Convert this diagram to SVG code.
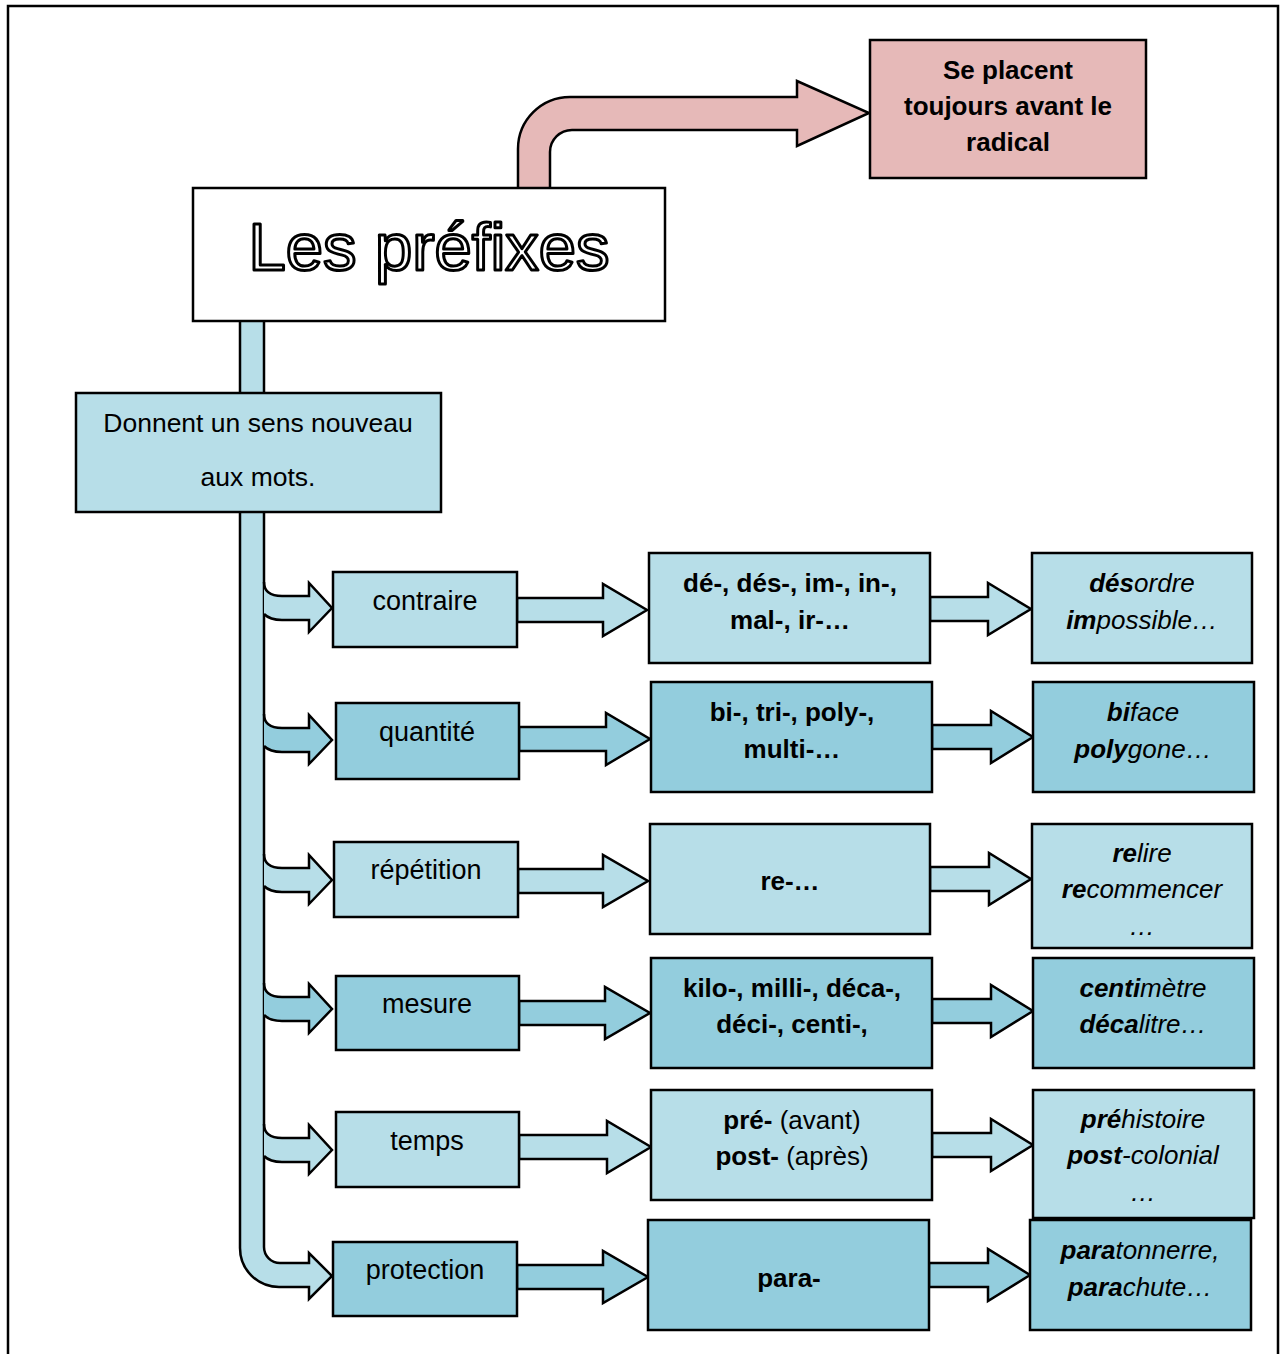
<svg xmlns="http://www.w3.org/2000/svg" width="1284" height="1354" viewBox="0 0 1284 1354">
<style>
.lt{fill:#b7dee8;stroke:#000;stroke-width:2.5;stroke-linejoin:miter}
.dk{fill:#93cddd;stroke:#000;stroke-width:2.5;stroke-linejoin:miter}
.pk{fill:#e6b9b8;stroke:#000;stroke-width:2.5;stroke-linejoin:miter}
.wh{fill:#fff;stroke:#000;stroke-width:2.5}
.t{font-family:"Liberation Sans",Arial,sans-serif;font-size:26px;text-anchor:middle;fill:#000}
.r{font-size:27px}
.b{font-weight:bold}
.i{font-style:italic}
.bi{font-weight:bold;font-style:italic}
</style>
<rect width="1284" height="1354" fill="#fff"/>
<path d="M8,1354 V6 H1278 V1354" fill="none" stroke="#000" stroke-width="2.5"/>

<g id="connectors">
  <path class="pk" d="M518,188 V149 A52,52 0 0 1 570,97 H797 V81 L869,113 L797,146 V130 H572 A22,22 0 0 0 550,152 V188"/>
  <path class="lt" d="M240,321 V1248 A39,39 0 0 0 279,1287 H309 V1299 L332,1276 L309,1253 V1263 H280 A16,16 0 0 1 264,1247 V321"/>
  <path class="lt" d="M264,582 Q264,596 282,596 H309 V583 L332,608 L309,632 V620 H282 Q270,620 264,614"/>
  <path class="dk" d="M264,714 Q264,728 282,728 H309 V715 L332,740 L309,764 V752 H282 Q270,752 264,746"/>
  <path class="lt" d="M264,854 Q264,868 282,868 H309 V855 L332,880 L309,904 V892 H282 Q270,892 264,886"/>
  <path class="dk" d="M264,983 Q264,997 282,997 H309 V984 L332,1009 L309,1033 V1021 H282 Q270,1021 264,1015"/>
  <path class="lt" d="M264,1124 Q264,1138 282,1138 H309 V1125 L332,1150 L309,1174 V1162 H282 Q270,1162 264,1156"/>

  <path class="lt" d="M517,598 H603 V584 L647,610 L603,636 V622 H517 Z"/>
  <path class="dk" d="M519,727 H606 V713 L650,739 L606,765 V751 H519 Z"/>
  <path class="lt" d="M518,869 H603 V855 L648,881 L603,907 V893 H518 Z"/>
  <path class="dk" d="M519,1001 H605 V987 L650,1013 L605,1039 V1025 H519 Z"/>
  <path class="lt" d="M519,1135 H607 V1121 L651,1147 L607,1173 V1159 H519 Z"/>
  <path class="dk" d="M517,1265 H603 V1251 L648,1277 L603,1303 V1289 H517 Z"/>

  <path class="lt" d="M930,597 H988 V583 L1031,609 L988,635 V621 H930 Z"/>
  <path class="dk" d="M932,725 H991 V711 L1033,737 L991,763 V749 H932 Z"/>
  <path class="lt" d="M930,867 H989 V853 L1031,879 L989,905 V891 H930 Z"/>
  <path class="dk" d="M932,999 H991 V985 L1033,1011 L991,1037 V1023 H932 Z"/>
  <path class="lt" d="M932,1133 H991 V1119 L1033,1145 L991,1171 V1157 H932 Z"/>
  <path class="dk" d="M929,1263 H988 V1249 L1030,1275 L988,1301 V1287 H929 Z"/>
</g>

<g id="radical">
  <rect class="pk" x="870" y="40" width="276" height="138"/>
  <text class="t b" x="1008" y="79">Se placent</text>
  <text class="t b" x="1008" y="115">toujours avant le</text>
  <text class="t b" x="1008" y="151">radical</text>
</g>

<g id="title">
  <rect class="wh" x="193" y="188" width="472" height="133"/>
  <text x="429" y="270" font-family="Liberation Sans, Arial, sans-serif" font-size="67" text-anchor="middle" fill="#fff" stroke="#000" stroke-width="3" stroke-linejoin="round">Les préfixes</text>
</g>

<g id="sens">
  <rect class="lt" x="76" y="393" width="365" height="119"/>
  <text class="t" x="258" y="432" style="font-size:26.5px">Donnent un sens nouveau</text>
  <text class="t" x="258" y="486" style="font-size:26.5px">aux mots.</text>
</g>

<g id="contraire">
  <rect class="lt" x="333" y="572" width="184" height="75"/>
  <text class="t r" x="425" y="610">contraire</text>
</g>
<g id="quantite">
  <rect class="dk" x="336" y="703" width="183" height="76"/>
  <text class="t r" x="427" y="741">quantité</text>
</g>
<g id="repetition">
  <rect class="lt" x="334" y="842" width="184" height="75"/>
  <text class="t r" x="426" y="879">répétition</text>
</g>
<g id="mesure">
  <rect class="dk" x="336" y="976" width="183" height="74"/>
  <text class="t r" x="427" y="1013">mesure</text>
</g>
<g id="temps">
  <rect class="lt" x="336" y="1112" width="183" height="75"/>
  <text class="t r" x="427" y="1150">temps</text>
</g>
<g id="protection">
  <rect class="dk" x="333" y="1242" width="184" height="74"/>
  <text class="t r" x="425" y="1279">protection</text>
</g>

<g id="prefixes-contraire">
  <rect class="lt" x="649" y="553" width="281" height="110"/>
  <text class="t b" x="790" y="592">dé-, dés-, im-, in-,</text>
  <text class="t b" x="790" y="629">mal-, ir-…</text>
</g>
<g id="prefixes-quantite">
  <rect class="dk" x="651" y="682" width="281" height="110"/>
  <text class="t b" x="792" y="721">bi-, tri-, poly-,</text>
  <text class="t b" x="792" y="758">multi-…</text>
</g>
<g id="prefixes-repetition">
  <rect class="lt" x="650" y="824" width="280" height="110"/>
  <text class="t b" x="790" y="890">re-…</text>
</g>
<g id="prefixes-mesure">
  <rect class="dk" x="651" y="958" width="281" height="110"/>
  <text class="t b" x="792" y="997">kilo-, milli-, déca-,</text>
  <text class="t b" x="792" y="1033">déci-, centi-,</text>
</g>
<g id="prefixes-temps">
  <rect class="lt" x="651" y="1090" width="281" height="110"/>
  <text class="t" x="792" y="1129"><tspan class="b">pré-</tspan> (avant)</text>
  <text class="t" x="792" y="1165"><tspan class="b">post-</tspan> (après)</text>
</g>
<g id="prefixes-protection">
  <rect class="dk" x="648" y="1220" width="281" height="110"/>
  <text class="t b" x="789" y="1287">para-</text>
</g>

<g id="ex-contraire">
  <rect class="lt" x="1032" y="553" width="220" height="110"/>
  <text class="t i" x="1142" y="592"><tspan class="bi">dés</tspan>ordre</text>
  <text class="t i" x="1142" y="629"><tspan class="bi">im</tspan>possible…</text>
</g>
<g id="ex-quantite">
  <rect class="dk" x="1033" y="682" width="221" height="110"/>
  <text class="t i" x="1143" y="721"><tspan class="bi">bi</tspan>face</text>
  <text class="t i" x="1143" y="758"><tspan class="bi">poly</tspan>gone…</text>
</g>
<g id="ex-repetition">
  <rect class="lt" x="1032" y="824" width="220" height="124"/>
  <text class="t i" x="1142" y="862"><tspan class="bi">re</tspan>lire</text>
  <text class="t i" x="1142" y="898"><tspan class="bi">re</tspan>commencer</text>
  <text class="t i" x="1142" y="935">…</text>
</g>
<g id="ex-mesure">
  <rect class="dk" x="1033" y="958" width="221" height="110"/>
  <text class="t i" x="1143" y="997"><tspan class="bi">centi</tspan>mètre</text>
  <text class="t i" x="1143" y="1033"><tspan class="bi">déca</tspan>litre…</text>
</g>
<g id="ex-temps">
  <rect class="lt" x="1033" y="1090" width="221" height="128"/>
  <text class="t i" x="1143" y="1128"><tspan class="bi">pré</tspan>histoire</text>
  <text class="t i" x="1143" y="1164"><tspan class="bi">post</tspan>-colonial</text>
  <text class="t i" x="1143" y="1201">…</text>
</g>
<g id="ex-protection">
  <rect class="dk" x="1030" y="1220" width="221" height="110"/>
  <text class="t i" x="1140" y="1259"><tspan class="bi">para</tspan>tonnerre,</text>
  <text class="t i" x="1140" y="1296"><tspan class="bi">para</tspan>chute…</text>
</g>
</svg>
